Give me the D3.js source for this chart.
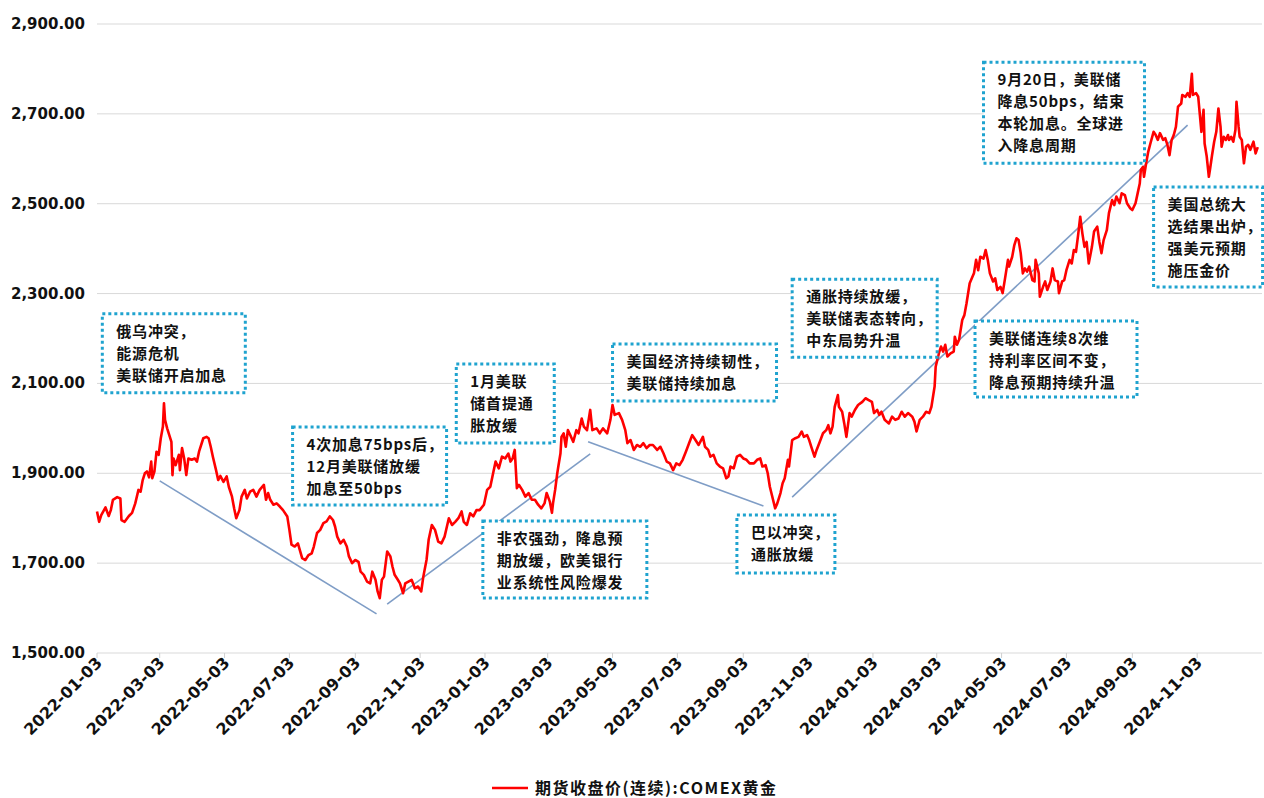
<!DOCTYPE html>
<html>
<head>
<meta charset="utf-8">
<script src="https://cdn.jsdelivr.net/npm/d3@7"></script>
<style>
  html, body { margin: 0; padding: 0; background: #fff; }
  svg { display: block; }
</style>
</head>
<body>
<svg id="chart" width="1264" height="798"></svg>
<script>
// ---------------- DATA ----------------
const seriesName = "期货收盘价(连续):COMEX黄金";

const prices2022 = [
["2022-01-03",1815],["2022-01-05",1792],["2022-01-07",1807],["2022-01-11",1824],["2022-01-14",1805],["2022-01-16",1818],["2022-01-18",1841],["2022-01-22",1847],["2022-01-25",1844],["2022-01-26",1796],["2022-01-29",1792],
["2022-02-02",1805],["2022-02-05",1812],["2022-02-08",1833],["2022-02-11",1863],["2022-02-13",1859],["2022-02-15",1885],["2022-02-17",1900],["2022-02-19",1904],["2022-02-21",1891],["2022-02-23",1926],["2022-02-24",1889],["2022-02-26",1904],["2022-02-28",1948],
["2022-03-02",1941],["2022-03-04",1978],["2022-03-06",2004],["2022-03-07",2056],["2022-03-08",2019],["2022-03-10",2000],["2022-03-12",1985],["2022-03-14",1970],["2022-03-15",1896],["2022-03-16",1933],["2022-03-18",1918],["2022-03-21",1941],["2022-03-22",1907],["2022-03-24",1956],["2022-03-26",1933],["2022-03-28",1896],["2022-03-30",1933],
["2022-04-02",1930],["2022-04-05",1933],["2022-04-07",1926],["2022-04-09",1948],["2022-04-13",1978],["2022-04-16",1981],["2022-04-18",1978],["2022-04-20",1959],["2022-04-22",1937],["2022-04-25",1907],["2022-04-27",1885],["2022-04-29",1894],
["2022-05-02",1881],["2022-05-05",1893],["2022-05-07",1870],["2022-05-10",1848],["2022-05-12",1822],["2022-05-14",1800],["2022-05-17",1818],["2022-05-19",1848],["2022-05-22",1863],["2022-05-24",1844],["2022-05-27",1859],["2022-05-30",1863],
["2022-06-02",1848],["2022-06-05",1863],["2022-06-09",1874],["2022-06-11",1841],["2022-06-13",1856],["2022-06-15",1841],["2022-06-18",1830],["2022-06-21",1833],["2022-06-24",1826],["2022-06-27",1818],
["2022-07-01",1804],["2022-07-03",1774],["2022-07-05",1741],["2022-07-08",1737],["2022-07-11",1744],["2022-07-15",1711],["2022-07-18",1707],["2022-07-21",1718],["2022-07-24",1722],["2022-07-26",1737],["2022-07-29",1767],
["2022-08-01",1774],["2022-08-04",1789],["2022-08-07",1793],["2022-08-10",1804],["2022-08-13",1796],["2022-08-15",1781],["2022-08-17",1759],["2022-08-20",1744],["2022-08-23",1752],["2022-08-26",1737],["2022-08-28",1715],["2022-08-31",1700],
["2022-09-03",1707],["2022-09-06",1703],["2022-09-08",1681],["2022-09-11",1674],["2022-09-14",1659],["2022-09-17",1655],["2022-09-19",1681],["2022-09-22",1663],["2022-09-24",1637],["2022-09-26",1622],["2022-09-28",1663],["2022-09-30",1670],
["2022-10-03",1726],["2022-10-06",1715],["2022-10-08",1692],["2022-10-10",1674],["2022-10-13",1663],["2022-10-15",1655],["2022-10-18",1633],["2022-10-20",1655],["2022-10-23",1659],["2022-10-26",1663],["2022-10-29",1644],
["2022-11-01",1648],["2022-11-04",1637],["2022-11-06",1670],["2022-11-09",1707],["2022-11-11",1752],["2022-11-14",1785],["2022-11-17",1774],["2022-11-20",1748],["2022-11-23",1744],["2022-11-26",1759],["2022-11-30",1800],
["2022-12-03",1785],["2022-12-06",1792],["2022-12-09",1800],["2022-12-12",1815],["2022-12-14",1792],["2022-12-17",1785],["2022-12-20",1811],["2022-12-23",1804],["2022-12-26",1818],["2022-12-29",1818]
];

const prices2023 = [
["2023-01-02",1830],["2023-01-05",1863],["2023-01-08",1870],["2023-01-11",1904],["2023-01-13",1926],["2023-01-16",1911],["2023-01-19",1937],["2023-01-22",1933],["2023-01-25",1944],["2023-01-27",1926],["2023-01-29",1933],["2023-01-31",1952],
["2023-02-02",1867],["2023-02-04",1874],["2023-02-07",1863],["2023-02-10",1848],["2023-02-13",1856],["2023-02-16",1841],["2023-02-19",1841],["2023-02-22",1830],["2023-02-25",1822],["2023-02-28",1833],
["2023-03-02",1856],["2023-03-05",1837],["2023-03-07",1812],["2023-03-08",1833],["2023-03-10",1863],["2023-03-12",1900],["2023-03-13",1915],["2023-03-15",1944],["2023-03-16",1981],["2023-03-18",1989],["2023-03-20",1959],["2023-03-22",1996],["2023-03-25",1981],["2023-03-27",1970],["2023-03-30",1996],
["2023-04-01",1989],["2023-04-04",2022],["2023-04-06",2004],["2023-04-09",1996],["2023-04-12",2041],["2023-04-14",1996],["2023-04-18",2000],["2023-04-21",1989],["2023-04-24",2000],["2023-04-28",1989],
["2023-05-01",2019],["2023-05-03",2052],["2023-05-05",2030],["2023-05-09",2034],["2023-05-12",2019],["2023-05-15",1996],["2023-05-17",1967],["2023-05-20",1974],["2023-05-23",1952],["2023-05-26",1963],["2023-05-29",1959],
["2023-06-01",1967],["2023-06-04",1956],["2023-06-07",1963],["2023-06-10",1963],["2023-06-14",1952],["2023-06-17",1959],["2023-06-20",1944],["2023-06-23",1926],["2023-06-26",1922],["2023-06-29",1907],
["2023-07-02",1922],["2023-07-05",1918],["2023-07-08",1930],["2023-07-11",1948],["2023-07-14",1967],["2023-07-17",1985],["2023-07-20",1974],["2023-07-23",1963],["2023-07-27",1981],["2023-07-29",1959],
["2023-08-01",1952],["2023-08-03",1937],["2023-08-06",1941],["2023-08-09",1922],["2023-08-12",1915],["2023-08-15",1911],["2023-08-18",1889],["2023-08-20",1893],["2023-08-22",1915],["2023-08-25",1911],["2023-08-28",1937],["2023-08-31",1941],
["2023-09-03",1933],["2023-09-06",1930],["2023-09-09",1922],["2023-09-13",1922],["2023-09-16",1930],["2023-09-19",1933],["2023-09-21",1915],["2023-09-24",1918],["2023-09-26",1900],["2023-09-28",1870],
["2023-10-01",1841],["2023-10-03",1822],["2023-10-05",1833],["2023-10-08",1856],["2023-10-10",1878],["2023-10-12",1889],["2023-10-15",1930],["2023-10-16",1915],["2023-10-19",1974],["2023-10-22",1978],["2023-10-25",1981],["2023-10-28",1993],["2023-10-30",1981],
["2023-11-02",1985],["2023-11-04",1974],["2023-11-06",1959],["2023-11-09",1937],["2023-11-11",1952],["2023-11-14",1970],["2023-11-17",1989],["2023-11-20",1996],["2023-11-22",2007],["2023-11-24",1989],["2023-11-26",2004],["2023-11-28",2048],
["2023-12-01",2074],["2023-12-02",2048],["2023-12-05",2037],["2023-12-07",2011],["2023-12-09",1981],["2023-12-12",2034],["2023-12-14",2026],["2023-12-17",2041],["2023-12-20",2052],["2023-12-24",2059],["2023-12-27",2067],["2023-12-30",2063]
];

const prices2024 = [
["2024-01-02",2059],["2024-01-04",2034],["2024-01-07",2041],["2024-01-09",2030],["2024-01-11",2037],["2024-01-14",2019],["2024-01-18",2011],["2024-01-21",2026],["2024-01-24",2019],["2024-01-27",2022],["2024-01-30",2037],
["2024-02-02",2026],["2024-02-05",2034],["2024-02-09",2026],["2024-02-11",2015],["2024-02-13",1993],["2024-02-16",2019],["2024-02-19",2026],["2024-02-22",2037],["2024-02-25",2034],["2024-02-27",2048],
["2024-03-01",2093],["2024-03-02",2137],["2024-03-05",2167],["2024-03-07",2182],["2024-03-09",2171],["2024-03-11",2186],["2024-03-13",2160],["2024-03-16",2167],["2024-03-19",2171],["2024-03-20",2204],["2024-03-22",2186],["2024-03-24",2197],["2024-03-27",2241],["2024-03-29",2252],["2024-03-31",2278],
["2024-04-03",2323],["2024-04-05",2334],["2024-04-07",2345],["2024-04-09",2375],["2024-04-11",2352],["2024-04-13",2382],["2024-04-16",2378],["2024-04-18",2397],["2024-04-20",2375],["2024-04-22",2345],["2024-04-25",2327],["2024-04-27",2334],["2024-04-29",2308],
["2024-05-02",2315],["2024-05-04",2301],["2024-05-06",2330],["2024-05-09",2375],["2024-05-10",2360],["2024-05-13",2382],["2024-05-15",2408],["2024-05-17",2423],["2024-05-19",2419],["2024-05-21",2390],["2024-05-23",2345],["2024-05-25",2356],["2024-05-27",2349],["2024-05-29",2360],
["2024-06-01",2330],["2024-06-03",2327],["2024-06-04",2375],["2024-06-07",2345],["2024-06-08",2293],["2024-06-11",2315],["2024-06-13",2327],["2024-06-15",2308],["2024-06-18",2327],["2024-06-20",2356],["2024-06-22",2330],["2024-06-25",2327],["2024-06-26",2301],["2024-06-29",2327],
["2024-07-01",2330],["2024-07-03",2352],["2024-07-06",2375],["2024-07-08",2367],["2024-07-10",2397],["2024-07-12",2393],["2024-07-14",2430],["2024-07-16",2471],["2024-07-18",2434],["2024-07-20",2404],["2024-07-22",2415],["2024-07-24",2367],["2024-07-27",2404],["2024-07-29",2438],
["2024-08-01",2449],["2024-08-03",2415],["2024-08-05",2390],["2024-08-07",2419],["2024-08-10",2441],["2024-08-12",2479],["2024-08-15",2508],["2024-08-17",2497],["2024-08-19",2516],["2024-08-22",2501],["2024-08-24",2523],["2024-08-27",2519],["2024-08-29",2501],
["2024-09-01",2490],["2024-09-03",2486],["2024-09-06",2501],["2024-09-08",2523],["2024-09-10",2545],["2024-09-11",2575],["2024-09-13",2582],["2024-09-14",2560],["2024-09-16",2590],["2024-09-18",2616],["2024-09-20",2634],["2024-09-23",2660],["2024-09-25",2653],["2024-09-27",2642],["2024-09-29",2657],
["2024-10-02",2642],["2024-10-04",2646],["2024-10-06",2631],["2024-10-08",2608],["2024-10-10",2642],["2024-10-12",2653],["2024-10-14",2671],["2024-10-16",2716],["2024-10-19",2723],["2024-10-20",2742],["2024-10-23",2738],["2024-10-25",2746],["2024-10-27",2738],["2024-10-29",2789],["2024-10-30",2742],
["2024-11-02",2746],["2024-11-04",2738],["2024-11-06",2686],["2024-11-07",2660],["2024-11-09",2709],["2024-11-10",2634],["2024-11-12",2605],["2024-11-14",2560],["2024-11-15",2575],["2024-11-17",2608],["2024-11-19",2638],["2024-11-21",2660],["2024-11-23",2712],["2024-11-25",2671],["2024-11-26",2627],["2024-11-28",2649],["2024-11-30",2642],
["2024-12-02",2653],["2024-12-03",2642],["2024-12-05",2649],["2024-12-07",2638],["2024-12-09",2664],["2024-12-10",2727],["2024-12-12",2671],["2024-12-13",2649],["2024-12-15",2642],["2024-12-17",2590],["2024-12-19",2627],["2024-12-21",2631],["2024-12-23",2620],["2024-12-26",2638],["2024-12-28",2612],["2024-12-30",2626]
];

const yTicks = [1500, 1700, 1900, 2100, 2300, 2500, 2700, 2900];
const xTickLabels = ["2022-01-03","2022-03-03","2022-05-03","2022-07-03","2022-09-03","2022-11-03",
  "2023-01-03","2023-03-03","2023-05-03","2023-07-03","2023-09-03","2023-11-03",
  "2024-01-03","2024-03-03","2024-05-03","2024-07-03","2024-09-03","2024-11-03"];
const xDomain = ["2022-01-03", "2025-01-03"];
const yDomain = [1500, 2900];

// trend lines (annotation), endpoints in data space
const trendLines = [
  [["2022-03-03",1883],["2022-09-23",1587]],
  [["2022-10-03",1609],["2023-04-12",1943]],
  [["2023-04-10",1970],["2023-09-22",1827]],
  [["2023-10-19",1847],["2024-10-25",2675]]
];

// callouts: text lines + anchor (top-left) in data space
const annotationTexts = [
  ["俄乌冲突，","能源危机","美联储开启加息"],
  ["4次加息75bps后，","12月美联储放缓","加息至50bps"],
  ["1月美联","储首提通","胀放缓"],
  ["非农强劲，降息预","期放缓，欧美银行","业系统性风险爆发"],
  ["美国经济持续韧性，","美联储持续加息"],
  ["巴以冲突，","通胀放缓"],
  ["通胀持续放缓，","美联储表态转向，","中东局势升温"],
  ["美联储连续8次维","持利率区间不变，","降息预期持续升温"],
  ["9月20日，美联储","降息50bps，结束","本轮加息。全球进","入降息周期"],
  ["美国总统大","选结果出炉，","强美元预期","施压金价"]
];
const annotationAnchors = [
  ["2022-01-08",2255],["2022-07-06",2003],["2022-12-07",2143],["2023-01-01",1794],
  ["2023-05-03",2188],["2023-08-28",1807],["2023-10-19",2332],["2024-04-08",2239],
  ["2024-04-16",2815],["2024-09-23",2537]
];

// ---------------- LAYOUT / STYLE ----------------
const boxSizes = [[143,79],[154,78],[98,79],[164,77],[164,57],[98,58],[145,78],[162,76],[161,101],[109,100]];
const plot = { left: 97, right: 1262, top: 24, bottom: 653 };
const latinFont = "'DejaVu Sans', Verdana, sans-serif";
const cjkFont = "'Noto Sans CJK SC', 'Noto Sans', sans-serif";

const parse = d3.timeParse("%Y-%m-%d");
const series = prices2022.concat(prices2023, prices2024).map(d => ({ date: parse(d[0]), value: d[1] }));

const x = d3.scaleTime().domain(xDomain.map(parse)).range([plot.left, plot.right]);
const y = d3.scaleLinear().domain(yDomain).range([plot.bottom, plot.top]);

const svg = d3.select("#chart");
svg.append("rect").attr("width", 1264).attr("height", 798).attr("fill", "#fff");

// gridlines
svg.append("g").selectAll("line").data(yTicks).join("line")
  .attr("x1", plot.left).attr("x2", plot.right)
  .attr("y1", d => y(d)).attr("y2", d => y(d))
  .attr("stroke", "#d9d9d9").attr("stroke-width", 1);

// y labels
svg.append("g").selectAll("text").data(yTicks).join("text")
  .attr("x", 85).attr("y", d => y(d))
  .attr("text-anchor", "end").attr("dominant-baseline", "central")
  .attr("font-family", latinFont).attr("font-weight", "bold").attr("font-size", 15)
  .attr("fill", "#111")
  .text(d3.format(",.2f"));

// x ticks + labels
const xt = svg.append("g");
xt.selectAll("line").data(xTickLabels).join("line")
  .attr("x1", d => x(parse(d))).attr("x2", d => x(parse(d)))
  .attr("y1", plot.bottom).attr("y2", plot.bottom + 5)
  .attr("stroke", "#d0d0d0").attr("stroke-width", 1);
xt.selectAll("text").data(xTickLabels).join("text")
  .attr("transform", d => `translate(${x(parse(d)) + 6},${plot.bottom + 11}) rotate(-45)`)
  .attr("text-anchor", "end")
  .attr("font-family", latinFont).attr("font-weight", "bold").attr("font-size", 16)
  .attr("fill", "#111")
  .text(d => d);

// trend lines
svg.append("g").selectAll("line").data(trendLines).join("line")
  .attr("x1", d => x(parse(d[0][0]))).attr("y1", d => y(d[0][1]))
  .attr("x2", d => x(parse(d[1][0]))).attr("y2", d => y(d[1][1]))
  .attr("stroke", "#7f9dc6").attr("stroke-width", 1.6);

// main series
const line = d3.line().x(d => x(d.date)).y(d => y(d.value));
svg.append("path").datum(series)
  .attr("d", line)
  .attr("fill", "none").attr("stroke", "#ff0000").attr("stroke-width", 2.6)
  .attr("stroke-linejoin", "round");

// callouts
const ann = svg.append("g").selectAll("g").data(annotationTexts).join("g")
  .attr("transform", (d, i) => `translate(${x(parse(annotationAnchors[i][0]))},${y(annotationAnchors[i][1])})`);
ann.append("rect")
  .attr("width", (d, i) => boxSizes[i][0]).attr("height", (d, i) => boxSizes[i][1])
  .attr("fill", "#fff").attr("stroke", "#1fa3cf").attr("stroke-width", 3)
  .attr("stroke-dasharray", "3 3");
ann.append("text")
  .attr("font-family", cjkFont).attr("font-weight", 700).attr("font-size", 15)
  .attr("letter-spacing", 0.8)
  .attr("fill", "#111")
  .each(function(lines) {
    d3.select(this).selectAll("tspan").data(lines).join("tspan")
      .attr("x", 14).attr("y", (d, j) => 23 + j * 22)
      .text(d => d);
  });

// legend
const lg = svg.append("g");
lg.append("line").attr("x1", 492).attr("x2", 528).attr("y1", 788).attr("y2", 788)
  .attr("stroke", "#ff0000").attr("stroke-width", 2.6);
lg.append("text").attr("x", 535).attr("y", 794)
  .attr("font-family", cjkFont).attr("font-weight", 700).attr("font-size", 16)
  .attr("letter-spacing", 1.5)
  .attr("fill", "#111").text(seriesName);
</script>
</body>
</html>
